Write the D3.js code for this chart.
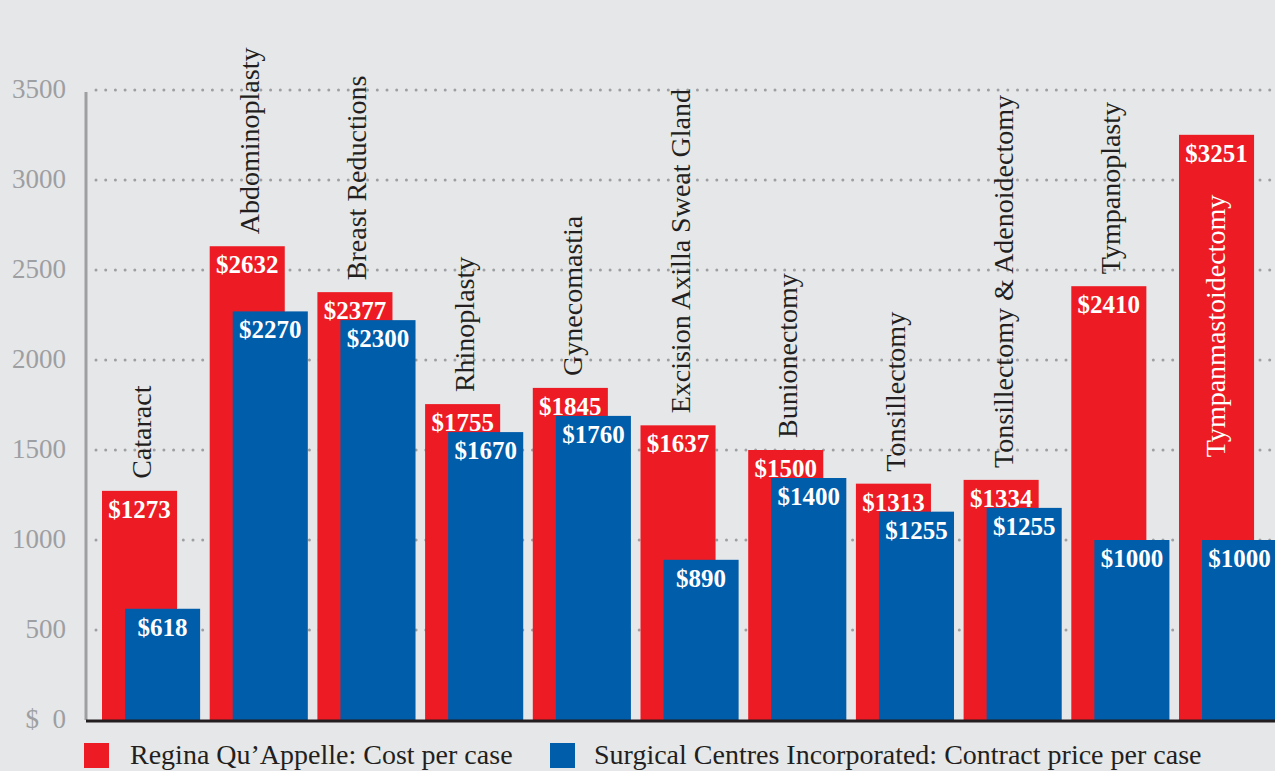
<!DOCTYPE html>
<html>
<head>
<meta charset="utf-8">
<script src="https://cdn.jsdelivr.net/npm/d3@7/dist/d3.min.js"></script>
<style>
  html, body { margin: 0; padding: 0; background: #e6e7e8; }
  svg { display: block; font-family: "Liberation Serif", "Times New Roman", serif; }
</style>
</head>
<body>
<svg id="chart" width="1275" height="771"></svg>
<script>
var categories = [
  'Cataract', 'Abdominoplasty', 'Breast Reductions', 'Rhinoplasty', 'Gynecomastia',
  'Excision Axilla Sweat Gland', 'Bunionectomy', 'Tonsillectomy',
  'Tonsillectomy & Adenoidectomy', 'Tympanoplasty', 'Tympanmastoidectomy'
]
var reginaCost = [1273, 2632, 2377, 1755, 1845, 1637, 1500, 1313, 1334, 2410, 3251]
var scicContract = [618, 2270, 2300, 1670, 1760, 890, 1400, 1255, 1255, 1000, 1000]
var yTicks = [0, 500, 1000, 1500, 2000, 2500, 3000, 3500]
var seriesNames = ['Regina Qu\u2019Appelle: Cost per case', 'Surgical Centres Incorporated: Contract price per case']

var red = '#ed1c24', blue = '#005daa', grey = '#9d9fa2', ink = '#231f20'

var svg = d3.select('#chart')

var y = d3.scaleLinear().domain([0, 3500]).range([720, 90])
var x = d3.scaleBand().domain(categories).range([102, 102 + 11 * 107.7])
var bw = x.bandwidth()
var barW = bw * 0.697
var shift = bw * 0.214

// dotted grid
svg.append('g').selectAll('line')
  .data(yTicks.filter(function(d) { return d > 0 }))
  .enter().append('line')
    .attr('x1', 96).attr('x2', 1275)
    .attr('y1', function(d) { return y(d) })
    .attr('y2', function(d) { return y(d) })
    .attr('stroke', grey)
    .attr('stroke-width', 3)
    .attr('stroke-linecap', 'round')
    .attr('stroke-dasharray', '0 9.7')

// left axis line
svg.append('line')
  .attr('x1', 86).attr('x2', 86)
  .attr('y1', y(3500) + 2).attr('y2', y(0))
  .attr('stroke', grey).attr('stroke-width', 3)

// tick labels
svg.append('g').selectAll('text')
  .data(yTicks)
  .enter().append('text')
    .attr('x', 66)
    .attr('y', function(d) { return y(d) + 8 })
    .attr('text-anchor', 'end')
    .attr('fill', grey)
    .attr('font-size', 27)
    .attr('xml:space', 'preserve')
    .text(function(d) { return d === 0 ? '$  0' : d })

var rows = categories.map(function(c, i) {
  var rTop = y(reginaCost[i])
  // blue bar tucks under the red value label, as in the original layout
  var bTop = Math.max(y(scicContract[i]), rTop + 28)
  return { cat: c, r: reginaCost[i], b: scicContract[i], rTop: rTop, bTop: bTop }
})

// bars
svg.append('g').selectAll('rect')
  .data(rows).enter().append('rect')
    .attr('x', function(d) { return x(d.cat) })
    .attr('y', function(d) { return d.rTop })
    .attr('width', barW)
    .attr('height', function(d) { return y(0) - d.rTop })
    .attr('fill', red)

svg.append('g').selectAll('rect')
  .data(rows).enter().append('rect')
    .attr('x', function(d) { return x(d.cat) + shift })
    .attr('y', function(d) { return d.bTop })
    .attr('width', barW)
    .attr('height', function(d) { return y(0) - d.bTop })
    .attr('fill', blue)

// value labels
function valueLabels(key, top, dx) {
  svg.append('g').selectAll('text')
    .data(rows).enter().append('text')
      .attr('x', function(d) { return x(d.cat) + dx + barW / 2 })
      .attr('y', function(d) { return d[top] + 27 })
      .attr('text-anchor', 'middle')
      .attr('fill', '#fff')
      .attr('font-weight', 'bold')
      .attr('font-size', 25)
      .text(function(d) { return '$' + d[key] })
}
valueLabels('r', 'rTop', 0)
valueLabels('b', 'bTop', shift)

// category labels (rotated)
svg.append('g').selectAll('text')
  .data(rows).enter().append('text')
    .attr('transform', function(d) {
      var top = Math.min(d.rTop, d.bTop)
      if (d.cat === 'Tympanmastoidectomy') {
        return 'translate(' + (x(d.cat) + 46) + ',' + (top + 60) + ') rotate(-90)'
      }
      return 'translate(' + (x(d.cat) + 49) + ',' + (top - 12) + ') rotate(-90)'
    })
    .attr('text-anchor', function(d) { return d.cat === 'Tympanmastoidectomy' ? 'end' : 'start' })
    .attr('fill', function(d) { return d.cat === 'Tympanmastoidectomy' ? '#fff' : ink })
    .attr('font-size', 28)
    .text(function(d) { return d.cat })

// baseline
svg.append('line')
  .attr('x1', 86).attr('x2', 1275)
  .attr('y1', y(0) + 1).attr('y2', y(0) + 1)
  .attr('stroke', ink).attr('stroke-width', 3)

// legend
var legend = svg.append('g').selectAll('g')
  .data(seriesNames).enter().append('g')
    .attr('transform', function(d, i) { return 'translate(' + (i === 0 ? 84 : 550) + ',743)' })
legend.append('rect')
  .attr('width', 25).attr('height', 25)
  .attr('fill', function(d, i) { return i === 0 ? red : blue })
legend.append('text')
  .attr('x', function(d, i) { return i === 0 ? 46 : 44 })
  .attr('y', 21)
  .attr('fill', ink)
  .attr('font-size', 28)
  .text(function(d) { return d })
</script>
</body>
</html>
